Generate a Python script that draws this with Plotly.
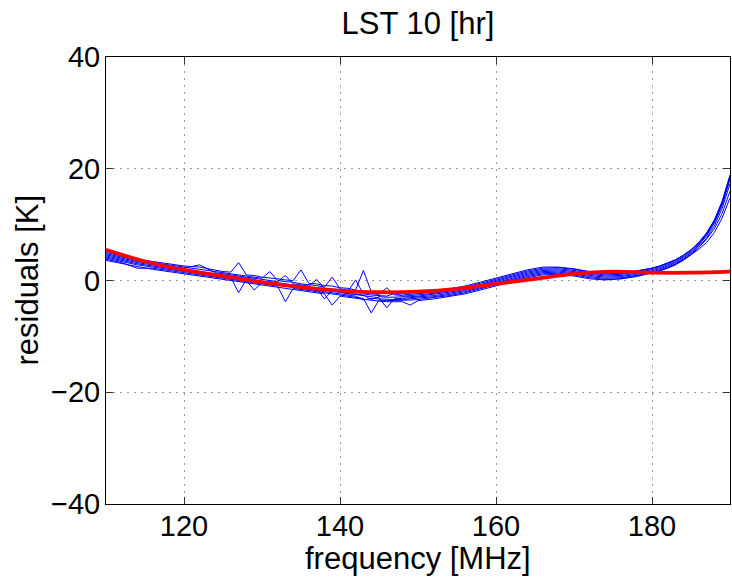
import plotly.graph_objects as go

# Frequency grid [MHz]
freq = [110, 112, 114, 116, 118, 120, 122, 124,
        125, 126, 127, 128, 129, 130, 131, 132, 133, 134, 135, 136, 137, 138, 139, 140,
        141, 142, 143, 144, 145, 146, 147, 148, 149, 150,
        152, 154, 156, 158, 160, 162, 164, 166, 168, 170, 172, 174, 176, 178, 180,
        181, 182, 183, 184, 185, 186, 187, 188, 189, 190]

# Residual curves [K] (blue)
res_1 = [5.0, 4.4, 3.8, 3.4, 3.0, 2.6, 2.4, 1.8,
         1.6, 1.5, 3.2, 1.0, 0.9, 0.6, 0.5, 0.3, 0.1, 0.0, 1.9, -0.5, -0.6, -0.9, -1.0, -1.3,
         -1.4, -1.7, 1.8, -2.0, -2.2, -2.3, -2.4, -2.3, -2.2, -2.1,
         -1.9, -1.5, -1.0, -0.3, 0.4, 1.2, 1.9, 2.4, 2.4, 2.1, 1.6, 1.3, 1.3, 1.7, 2.2,
         2.6, 3.1, 3.7, 4.5, 5.5, 6.8, 8.5, 10.8, 14.2, 18.9]
res_2 = [4.8, 4.2, 3.6, 3.2, 2.8, 2.4, 2.0, 1.6,
         1.4, 1.2, 1.0, 0.8, 0.7, 0.4, 1.6, 0.0, -0.2, -0.3, -0.6, -0.7, -0.9, -1.2, 0.6, -1.5,
         -1.8, -2.0, -2.2, -2.3, -2.5, -1.3, -2.6, -2.6, -2.5, -2.4,
         -2.1, -1.7, -1.2, -0.5, 0.2, 1.0, 1.7, 2.2, 2.3, 2.0, 1.5, 1.2, 1.3, 1.7, 2.2,
         2.6, 3.1, 3.7, 4.5, 5.5, 6.8, 8.5, 10.8, 14.1, 18.7]
res_3 = [4.6, 4.0, 3.4, 3.0, 2.6, 2.2, 2.8, 1.4,
         1.2, 1.0, 0.8, 0.6, 0.4, 0.2, 0.0, -0.2, 0.9, -0.6, -0.8, -1.0, 0.2, -1.4, -1.6, -1.8,
         -2.0, 0.1, -2.4, -2.6, -2.7, -2.8, -2.3, -2.8, -2.7, -2.6,
         -2.3, -1.9, -1.4, -0.7, 0.0, 0.8, 1.5, 2.0, 2.1, 1.8, 1.3, 1.0, 1.1, 1.5, 2.1,
         2.5, 3.0, 3.6, 4.4, 5.4, 6.7, 8.4, 10.7, 14.0, 18.6]
res_4 = [4.4, 3.8, 3.2, 2.8, 2.4, 2.0, 1.6, 1.2,
         1.0, 0.8, 0.6, 0.4, 0.2, -0.4, -0.2, -0.4, -0.6, -0.8, -1.0, -1.2, -1.4, -3.3, -1.8, -2.0,
         -2.4, -2.4, -2.6, -3.4, -2.9, -3.0, -3.0, -3.0, -2.9, -2.8,
         -2.5, -2.1, -1.6, -0.9, -0.2, 0.6, 1.3, 1.8, 1.9, 1.6, 1.1, 0.8, 0.9, 1.3, 1.9,
         2.3, 2.8, 3.4, 4.2, 5.2, 6.5, 8.2, 10.5, 13.8, 18.4]
res_5 = [4.2, 3.6, 3.0, 2.6, 2.2, 1.8, 1.4, 1.0,
         0.8, 0.6, -2.2, 0.2, 0.0, -0.2, -0.4, -0.6, -0.8, -1.0, -1.2, -1.4, -1.6, -1.8, -2.0, -2.2,
         -2.4, -2.6, -2.8, -3.0, -3.1, -4.9, -3.2, -3.2, -3.1, -3.0,
         -2.7, -2.3, -1.8, -1.1, -0.4, 0.4, 1.1, 1.6, 1.7, 1.4, 0.9, 0.6, 0.7, 1.1, 1.7,
         2.1, 2.6, 3.2, 4.0, 5.0, 6.3, 8.0, 10.3, 13.5, 18.1]
res_6 = [4.0, 3.4, 2.8, 2.4, 2.0, 1.6, 1.2, 0.8,
         0.6, 0.4, 0.2, 0.0, -1.7, -0.4, -0.6, -0.8, -1.0, -1.2, -1.4, -1.6, -1.8, -2.0, -2.2, -2.4,
         -2.6, -2.8, -3.5, -3.2, -3.3, -3.4, -3.4, -3.4, -3.3, -3.2,
         -2.9, -2.5, -2.0, -1.3, -0.6, 0.2, 0.9, 1.4, 1.5, 1.2, 0.7, 0.4, 0.5, 0.9, 1.5,
         1.9, 2.4, 3.0, 3.8, 4.8, 6.0, 7.6, 9.8, 12.9, 17.3]
res_7 = [3.8, 3.2, 2.2, 2.2, 1.8, 1.4, 1.0, 0.6,
         0.4, 0.2, 0.0, -0.2, -0.4, -0.6, -0.8, -1.0, -3.8, -1.4, -1.6, -1.8, -2.0, -2.2, -2.4, -2.6,
         -2.8, -3.0, -3.2, -5.8, -3.5, -3.6, -3.6, -3.6, -3.5, -3.4,
         -3.1, -2.7, -2.2, -1.5, -0.8, 0.0, 0.7, 1.2, 1.3, 1.0, 0.5, 0.2, 0.3, 0.7, 1.3,
         1.7, 2.2, 2.8, 3.6, 4.6, 5.6, 6.8, 8.6, 11.2, 14.8]
res_8 = [3.6, 3.0, 2.5, 2.0, 1.6, 1.2, 0.8, 0.4,
         0.2, 0.0, -0.2, -0.4, -0.6, -0.8, -1.0, -1.2, -1.4, -1.6, -1.8, -2.0, -2.2, -2.4, -4.4, -2.8,
         -3.0, -3.2, -3.4, -3.6, -3.7, -3.8, -3.8, -3.8, -4.4, -3.6,
         -3.3, -2.9, -2.4, -1.7, -1.0, -0.2, 0.5, 1.0, 1.1, 0.8, 0.3, 0.1, 0.3, 0.8, 1.4,
         1.8, 2.3, 2.9, 3.7, 4.6, 5.9, 7.4, 9.3, 12.0, 16.0]

residual_series = [res_1, res_2, res_3, res_4, res_5, res_6, res_7, res_8]

# Smooth fit (red)
fit_freq = [110, 115, 120, 125, 130, 135, 140, 145, 150, 155, 160, 165, 170, 175, 180, 185, 190]
fit_vals = [5.5, 3.4, 1.9, 0.8, -0.3, -1.2, -1.8, -2.1, -2.0, -1.5, -0.6, 0.3, 1.2, 1.6, 1.4, 1.4, 1.6]

x_ticks = [120, 140, 160, 180]
y_ticks = [-40, -20, 0, 20, 40]

FONT = "Liberation Sans, Arial, Helvetica, sans-serif"

fig = go.Figure()
for s in residual_series:
    fig.add_trace(go.Scatter(x=freq, y=s, mode="lines",
                             line=dict(color="#0000ff", width=1),
                             showlegend=False, hoverinfo="skip"))
fig.add_trace(go.Scatter(x=fit_freq, y=fit_vals, mode="lines",
                         line=dict(color="#ff0000", width=3.8, shape="spline"),
                         showlegend=False))

axis_common = dict(
    showline=True, linecolor="black", linewidth=1, mirror="ticks",
    ticks="inside", ticklen=7, tickcolor="#333333", tickwidth=1,
    showgrid=True, gridcolor="#999999", griddash="2px,5px", gridwidth=1,
    zeroline=False, automargin=False,
    tickfont=dict(family=FONT, size=29, color="black"),
)

fig.update_xaxes(range=[110, 190], tickvals=x_ticks, ticktext=[str(v) for v in x_ticks],
                 ticklabelstandoff=-4, **axis_common)
fig.update_yaxes(range=[-40, 40], tickvals=y_ticks,
                 ticktext=["\u221240", "\u221220", "0", "20", "40"],
                 ticklabelstandoff=-1, **axis_common)

fig.add_annotation(text="frequency [MHz]", xref="paper", yref="paper",
                   x=0.5, y=(504 - 558) / 447, xanchor="center", yanchor="middle",
                   showarrow=False, font=dict(family=FONT, size=31, color="black"))
fig.add_annotation(text="residuals [K]", xref="paper", yref="paper",
                   x=(27 - 106) / 624, y=0.5, xanchor="center", yanchor="middle",
                   textangle=-90, showarrow=False,
                   font=dict(family=FONT, size=31, color="black"))

fig.update_layout(
    width=732, height=577,
    margin=dict(l=106, r=2, t=57, b=73, autoexpand=False),
    paper_bgcolor="white", plot_bgcolor="white",
    title=dict(text="LST 10 [hr]", x=0.5, xref="paper", y=1 - 23 / 577, yref="container",
               xanchor="center", yanchor="middle", automargin=False,
               font=dict(family=FONT, size=31, color="black")),
    showlegend=False,
)

fig.write_html("out.html", config={"displayModeBar": False},
               post_script="document.body.style.margin='0px';")
